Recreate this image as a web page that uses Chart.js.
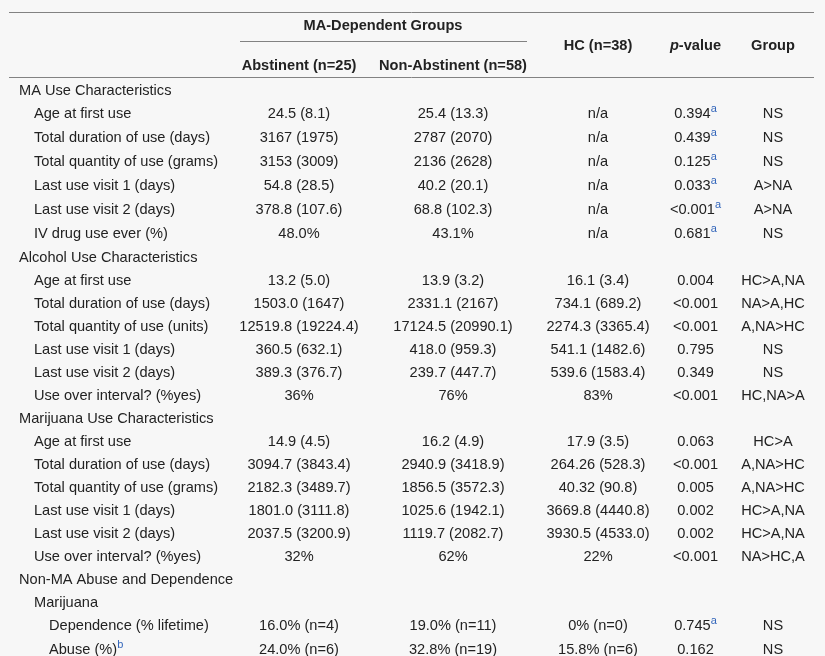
<!DOCTYPE html>
<html><head><meta charset="utf-8">
<script src="https://cdn.jsdelivr.net/npm/chart.js@4"></script>
<style>html,body{margin:0;padding:0;background:#f7f7f7;overflow:hidden}canvas{display:block}</style>
</head><body>
<canvas id="c" width="825" height="656"></canvas>
<script>
// ---------- DATA ----------
const groupHeader = 'MA-Dependent Groups';
const columnHeaders = ['Abstinent (n=25)', 'Non-Abstinent (n=58)', 'HC (n=38)', 'p-value', 'Group'];
const rowLabels = [
  'MA Use Characteristics', 'Age at first use', 'Total duration of use (days)', 'Total quantity of use (grams)',
  'Last use visit 1 (days)', 'Last use visit 2 (days)', 'IV drug use ever (%)',
  'Alcohol Use Characteristics', 'Age at first use', 'Total duration of use (days)', 'Total quantity of use (units)',
  'Last use visit 1 (days)', 'Last use visit 2 (days)', 'Use over interval? (%yes)',
  'Marijuana Use Characteristics', 'Age at first use', 'Total duration of use (days)', 'Total quantity of use (grams)',
  'Last use visit 1 (days)', 'Last use visit 2 (days)', 'Use over interval? (%yes)',
  'Non-MA Abuse and Dependence', 'Marijuana', 'Dependence (% lifetime)', 'Abuse (%)'
];
const rowLevels = [0,1,1,1,1,1,1, 0,1,1,1,1,1,1, 0,1,1,1,1,1,1, 0,1,2,2];
const labelNotes = ['','','','','','','', '','','','','','','', '','','','','','','', '','','','b'];
const abstinent = ['', '24.5 (8.1)', '3167 (1975)', '3153 (3009)', '54.8 (28.5)', '378.8 (107.6)', '48.0%',
  '', '13.2 (5.0)', '1503.0 (1647)', '12519.8 (19224.4)', '360.5 (632.1)', '389.3 (376.7)', '36%',
  '', '14.9 (4.5)', '3094.7 (3843.4)', '2182.3 (3489.7)', '1801.0 (3111.8)', '2037.5 (3200.9)', '32%',
  '', '', '16.0% (n=4)', '24.0% (n=6)'];
const nonAbstinent = ['', '25.4 (13.3)', '2787 (2070)', '2136 (2628)', '40.2 (20.1)', '68.8 (102.3)', '43.1%',
  '', '13.9 (3.2)', '2331.1 (2167)', '17124.5 (20990.1)', '418.0 (959.3)', '239.7 (447.7)', '76%',
  '', '16.2 (4.9)', '2940.9 (3418.9)', '1856.5 (3572.3)', '1025.6 (1942.1)', '1119.7 (2082.7)', '62%',
  '', '', '19.0% (n=11)', '32.8% (n=19)'];
const healthyControls = ['', 'n/a', 'n/a', 'n/a', 'n/a', 'n/a', 'n/a',
  '', '16.1 (3.4)', '734.1 (689.2)', '2274.3 (3365.4)', '541.1 (1482.6)', '539.6 (1583.4)', '83%',
  '', '17.9 (3.5)', '264.26 (528.3)', '40.32 (90.8)', '3669.8 (4440.8)', '3930.5 (4533.0)', '22%',
  '', '', '0% (n=0)', '15.8% (n=6)'];
const pValues = ['', '0.394', '0.439', '0.125', '0.033', '<0.001', '0.681',
  '', '0.004', '<0.001', '<0.001', '0.795', '0.349', '<0.001',
  '', '0.063', '<0.001', '0.005', '0.002', '0.002', '<0.001',
  '', '', '0.745', '0.162'];
const pNotes = ['', 'a', 'a', 'a', 'a', 'a', 'a', '','','','','','','', '','','','','','','', '','','a',''];
const groupComparison = ['', 'NS', 'NS', 'NS', 'A>NA', 'A>NA', 'NS',
  '', 'HC>A,NA', 'NA>A,HC', 'A,NA>HC', 'NS', 'NS', 'HC,NA>A',
  '', 'HC>A', 'A,NA>HC', 'A,NA>HC', 'HC>A,NA', 'HC>A,NA', 'NA>HC,A',
  '', '', 'NS', 'NS'];

// ---------- LAYOUT / STYLE ----------
const FONT_FAMILY = '"Liberation Sans", Arial, Helvetica, sans-serif';
const FS = 14.6;
const TEXT = '#222222';
const NOTE = '#3366bb';
const RULE = '#828282';
const BG = '#f7f7f7';
const labelIndent = [19, 34, 49];
const colCenters = [299, 453, 598, 695.5, 773];
const firstRowCenter = 89.5;
const rowH = (i) => (pNotes[i] || labelNotes[i]) ? 24 : 23;
const rowCenters = [];
rowLabels.forEach((_, i) => {
  rowCenters.push(i === 0 ? firstRowCenter : rowCenters[i-1] + (rowH(i-1) + rowH(i)) / 2);
});

function font(w, style, size) { return `${style || 'normal'} ${w || 'normal'} ${size || FS}px ${FONT_FAMILY}`; }

function drawRich(ctx, parts, x, y, align) {
  // parts: [{t, w, s, sup}]
  let total = 0;
  parts.forEach(p => { ctx.font = font(p.w, p.s, p.sup ? 11 : FS); p.width = ctx.measureText(p.t).width; total += p.width; });
  let cx = align === 'center' ? x - total / 2 : x;
  ctx.textAlign = 'left';
  ctx.textBaseline = 'alphabetic';
  parts.forEach(p => {
    ctx.font = font(p.w, p.s, p.sup ? 11 : FS);
    ctx.fillStyle = p.sup ? NOTE : TEXT;
    ctx.fillText(p.t, cx, y + 5.2 - (p.sup ? 6 : 0));
    cx += p.width;
  });
}

const tablePlugin = {
  id: 'tablePlugin',
  beforeDraw(chart) {
    const ctx = chart.ctx;
    ctx.save();
    ctx.fillStyle = BG;
    ctx.fillRect(0, 0, chart.width, chart.height);
    ctx.restore();
  },
  afterDraw(chart) {
    const ctx = chart.ctx;
    const xs = chart.scales.x, ys = chart.scales.y;
    ctx.save();
    // rules
    ctx.strokeStyle = RULE;
    ctx.lineWidth = 1;
    const hline = (x0, x1, y) => {
      ctx.beginPath();
      ctx.moveTo(xs.getPixelForValue(x0), Math.round(ys.getPixelForValue(y)) + 0.5);
      ctx.lineTo(xs.getPixelForValue(x1), Math.round(ys.getPixelForValue(y)) + 0.5);
      ctx.stroke();
    };
    hline(9, 814, 12);
    hline(240, 527, 41);
    hline(9, 814, 77);

    // headers
    drawRich(ctx, [{t: groupHeader, w: 'bold'}], xs.getPixelForValue(383), ys.getPixelForValue(25), 'center');
    drawRich(ctx, [{t: columnHeaders[0], w: 'bold'}], xs.getPixelForValue(colCenters[0]), ys.getPixelForValue(65), 'center');
    drawRich(ctx, [{t: columnHeaders[1], w: 'bold'}], xs.getPixelForValue(colCenters[1]), ys.getPixelForValue(65), 'center');
    drawRich(ctx, [{t: columnHeaders[2], w: 'bold'}], xs.getPixelForValue(colCenters[2]), ys.getPixelForValue(45), 'center');
    const ph = columnHeaders[3];
    drawRich(ctx, [{t: ph.slice(0, 1), w: 'bold', s: 'italic'}, {t: ph.slice(1), w: 'bold'}], xs.getPixelForValue(colCenters[3]), ys.getPixelForValue(45), 'center');
    drawRich(ctx, [{t: columnHeaders[4], w: 'bold'}], xs.getPixelForValue(colCenters[4]), ys.getPixelForValue(45), 'center');

    // body
    const cols = [abstinent, nonAbstinent, healthyControls];
    rowLabels.forEach((lab, i) => {
      const y = ys.getPixelForValue(rowCenters[i]);
      const lp = [{t: lab}];
      if (labelNotes[i]) lp.push({t: labelNotes[i], sup: true});
      drawRich(ctx, lp, xs.getPixelForValue(labelIndent[rowLevels[i]]), y, 'left');
      cols.forEach((arr, c) => { if (arr[i]) drawRich(ctx, [{t: arr[i]}], xs.getPixelForValue(colCenters[c]), y, 'center'); });
      if (pValues[i]) {
        const pp = [{t: pValues[i]}];
        if (pNotes[i]) pp.push({t: pNotes[i], sup: true});
        drawRich(ctx, pp, xs.getPixelForValue(colCenters[3]), y, 'center');
      }
      if (groupComparison[i]) drawRich(ctx, [{t: groupComparison[i]}], xs.getPixelForValue(colCenters[4]), y, 'center');
    });
    ctx.restore();
  }
};

new Chart(document.getElementById('c'), {
  type: 'scatter',
  data: { datasets: [{ data: [], pointRadius: 0 }] },
  options: {
    responsive: false,
    devicePixelRatio: 1,
    animation: false,
    layout: { padding: 0 },
    plugins: { legend: { display: false }, tooltip: { enabled: false } },
    scales: {
      x: { type: 'linear', min: 0, max: 825, display: false },
      y: { type: 'linear', min: 0, max: 656, reverse: true, display: false }
    }
  },
  plugins: [tablePlugin]
});
</script>
</body></html>
